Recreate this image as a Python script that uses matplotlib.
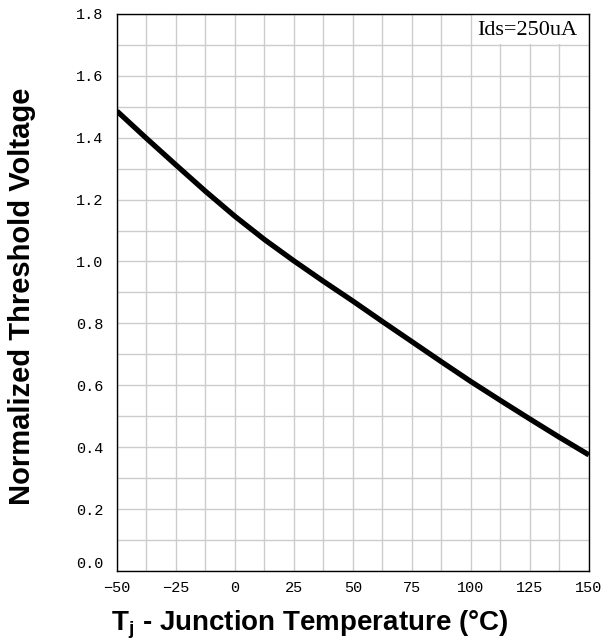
import numpy as np
import matplotlib
matplotlib.use("Agg")
import matplotlib.pyplot as plt
from matplotlib.ticker import MultipleLocator
from matplotlib.patches import Rectangle

# curve
temp_c = [-50, -37.5, -25, -12.5, 0, 12.5, 25, 37.5, 50, 62.5, 75, 87.5, 100, 112.5, 125, 137.5, 150]
vth_norm = [1.486, 1.398, 1.312, 1.227, 1.146, 1.071, 1.002, 0.936, 0.872, 0.806, 0.741, 0.676,
            0.612, 0.551, 0.491, 0.432, 0.375]

x_ticks = [-50, -25, 0, 25, 50, 75, 100, 125, 150]
y_ticks = [0.0, 0.2, 0.4, 0.6, 0.8, 1.0, 1.2, 1.4, 1.6, 1.8]
note = "Ids=250uA"

fig = plt.figure(figsize=(6.09, 6.44), dpi=100)
ax = fig.add_axes([0.192, 0.1134, 0.775, 0.865])

ax.plot(temp_c, vth_norm, color="black", lw=3.8, solid_capstyle="butt", zorder=3)

ax.set_xlim(-50, 150)
ax.set_ylim(0, 1.8)
ax.set_xticks(x_ticks)
ax.set_yticks(y_ticks)
ax.set_xticklabels([str(t).replace("-", "\u2212") for t in x_ticks])
ax.set_yticklabels([f"{v:.1f}" for v in y_ticks])
ax.xaxis.set_minor_locator(MultipleLocator(12.5))
ax.yaxis.set_minor_locator(MultipleLocator(0.1))
ax.grid(True, which="both", color="#cccccc", lw=1.0, zorder=0)
ax.set_axisbelow(True)
ax.tick_params(axis="y", which="both", length=0, pad=10)
ax.tick_params(axis="x", which="both", length=0, pad=7)
for lab in ax.get_xticklabels() + ax.get_yticklabels():
    lab.set_fontfamily("Liberation Mono")
    lab.set_fontsize(11)
ax.get_yticklabels()[0].set_verticalalignment("bottom")
for sp in ax.spines.values():
    sp.set_linewidth(1.0)

# white box behind the condition note (hides the grid in that cell)
ax.add_patch(Rectangle((101, 1.704), 48.8, 0.094, facecolor="white", edgecolor="none", zorder=1))
ax.text(145.3, 1.746, note, ha="right", va="center", fontsize=16, family="Liberation Serif", zorder=4)

fig.text(0.036, 0.540, "Normalized Threshold Voltage", rotation=90, ha="center", va="center",
         fontsize=21, fontweight="bold", family="Liberation Sans")
fig.text(0.509, 0.022, r"T$_\mathregular{j}$ - Junction Temperature (°C)", ha="center", va="baseline",
         fontsize=20, fontweight="bold", family="Liberation Sans")

fig.savefig("out.png", dpi=100)
